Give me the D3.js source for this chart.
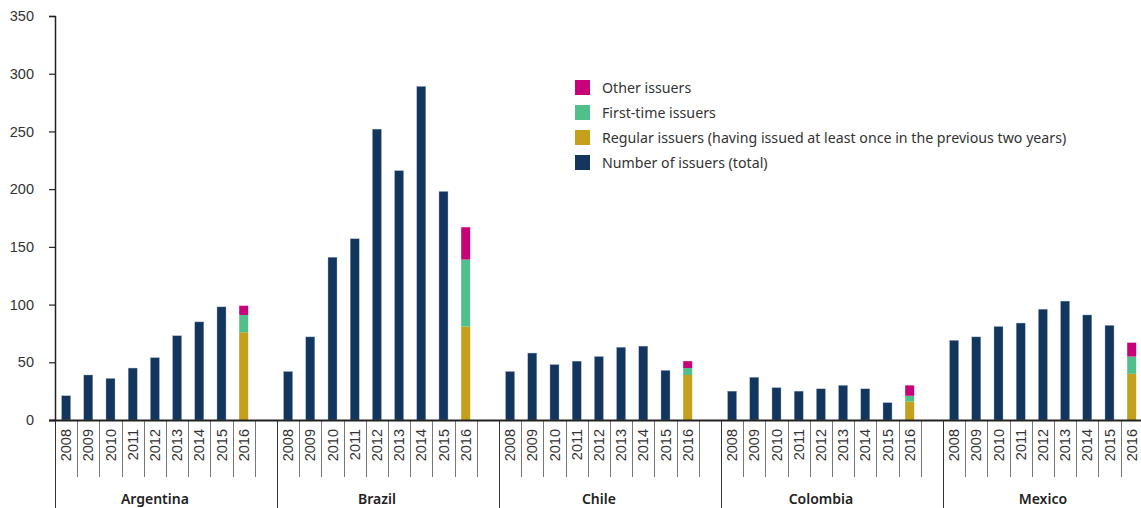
<!DOCTYPE html>
<html>
<head>
<meta charset="utf-8">
<script src="https://cdn.jsdelivr.net/npm/d3@7"></script>
<style>
    body { margin: 0; background: #fff; }
    svg { font-family: "Noto Sans", "Open Sans", sans-serif; }
    .axis text { fill: #333; font-size: 14.5px; }
    .legend text { fill: #333; font-size: 14.2px; }
    .country { fill: #222; font-size: 14px; font-weight: 600; }
</style>
</head>
<body>
<svg id="chart"></svg>
<script>
// categories
var countries = ["Argentina", "Brazil", "Chile", "Colombia", "Mexico"];
var years = ["2008", "2009", "2010", "2011", "2012", "2013", "2014", "2015", "2016"];

// total issuers 2008-2015, one row per country
var totals = [
    [21, 39, 36, 45, 54, 73, 85, 98],
    [42, 72, 141, 157, 252, 216, 289, 198],
    [42, 58, 48, 51, 55, 63, 64, 43],
    [25, 37, 28, 25, 27, 30, 27, 15],
    [69, 72, 81, 84, 96, 103, 91, 82]
];

// 2016 breakdown
var regular = [76, 81, 39, 16, 40];
var firstTime = [15, 58, 6, 5, 15];
var other = [8, 28, 6, 9, 12];

var legendLabels = [
    "Other issuers",
    "First-time issuers",
    "Regular issuers (having issued at least once in the previous two years)",
    "Number of issuers (total)"
];

var colors = {
    total: "#13365f",
    regular: "#c4a01d",
    first: "#51bf8a",
    other: "#c8037a"
};

var width = 1141, height = 508;
var margin = { left: 55, top: 16 };
var baseY = 420;
var slotsPerGroup = 10;   // 9 years + empty gap
var slotW = 22.2;

var svg = d3.select("#chart")
    .attr("width", width)
    .attr("height", height);

// slot keys for the band scale
var slots = [];
countries.forEach(function(c) {
    for (var i = 0; i < slotsPerGroup; i++) slots.push(c + "|" + i);
});

var x = d3.scaleBand()
    .domain(slots)
    .range([margin.left, margin.left + slots.length * slotW])
    .padding(0);

var y = d3.scaleLinear()
    .domain([0, 350])
    .range([baseY, margin.top]);

// build bar data
var bars = [];
countries.forEach(function(c, ci) {
    totals[ci].forEach(function(v, yi) {
        bars.push({ key: c + "|" + yi, y0: 0, y1: v, color: colors.total });
    });
    var k = c + "|8";
    bars.push({ key: k, y0: 0, y1: regular[ci], color: colors.regular });
    bars.push({ key: k, y0: regular[ci], y1: regular[ci] + firstTime[ci], color: colors.first });
    bars.push({ key: k, y0: regular[ci] + firstTime[ci], y1: regular[ci] + firstTime[ci] + other[ci], color: colors.other });
});

var barW = 9;

// slot separators below the axis
var sepGroup = svg.append("g").attr("class", "separators");
slots.forEach(function(s) {
    var idx = +s.split("|")[1];
    var sx = Math.round(x(s)) + 0.5;
    sepGroup.append("line")
        .attr("x1", sx).attr("x2", sx)
        .attr("y1", baseY)
        .attr("y2", idx === 0 ? height : 477)
        .attr("stroke", idx === 0 ? "#333" : "#777")
        .attr("stroke-width", 1);
});

// bars
svg.append("g")
    .selectAll("rect")
    .data(bars).enter()
    .append("rect")
    .attr("x", d => x(d.key) + x.bandwidth() / 2 - barW / 2)
    .attr("width", barW)
    .attr("y", d => y(d.y1))
    .attr("height", d => y(d.y0) - y(d.y1))
    .attr("fill", d => d.color)
    .attr("stroke", d => d.color === colors.total ? "#9fb0c6" : "none")
    .attr("stroke-width", 0.4);

// y axis
var gy = svg.append("g")
    .attr("class", "axis axis--y")
    .attr("transform", "translate(" + margin.left + ",0)")
    .call(d3.axisLeft(y).tickValues(d3.range(0, 351, 50)).tickSize(6).tickPadding(15));
gy.select(".domain").attr("stroke", "#222").attr("stroke-width", 1.5);
gy.selectAll(".tick line").attr("stroke", "#222").attr("stroke-width", 1.2);

// x axis with rotated year labels
var yearTicks = slots.filter(s => +s.split("|")[1] < 9);
var gx = svg.append("g")
    .attr("class", "axis axis--x")
    .attr("transform", "translate(0," + baseY + ")")
    .call(d3.axisBottom(x).tickValues(yearTicks).tickSize(0)
        .tickFormat(s => years[+s.split("|")[1]]));
gx.select(".domain").attr("d", "M" + (margin.left - 6) + ",0.5H" + width)
    .attr("stroke", "#222").attr("stroke-width", 2);
gx.selectAll(".tick text")
    .attr("transform", "rotate(-90)")
    .attr("x", -9)
    .attr("y", 0)
    .attr("dy", "0.35em")
    .attr("text-anchor", "end");

// country labels, centred under the 9 year slots
svg.append("g")
    .selectAll("text")
    .data(countries).enter()
    .append("text")
    .attr("class", "country")
    .attr("x", c => x(c + "|0") + 9 * x.bandwidth() / 2)
    .attr("y", 504)
    .attr("text-anchor", "middle")
    .text(c => c);

// legend
var legendColors = [colors.other, colors.first, colors.regular, colors.total];
var legend = svg.append("g")
    .attr("class", "legend")
    .attr("transform", "translate(575,80)");
legendLabels.forEach(function(l, i) {
    var row = legend.append("g").attr("transform", "translate(0," + (i * 25) + ")");
    row.append("rect")
        .attr("width", 15).attr("height", 15)
        .attr("fill", legendColors[i]);
    row.append("text")
        .attr("x", 27)
        .attr("y", 12.5)
        .text(l);
});
</script>
</body>
</html>
